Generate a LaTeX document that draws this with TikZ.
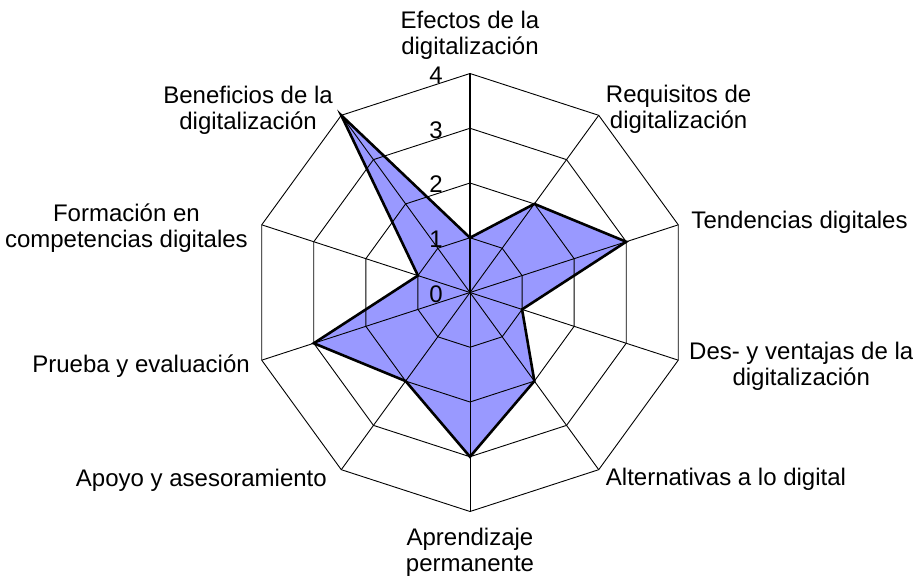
\documentclass[tikz,border=0pt]{standalone}
\usepackage{fontspec}
\setmainfont{Liberation Sans}
\usetikzlibrary{positioning}

\begin{document}
\begin{tikzpicture}[x=1pt,y=1pt]

	\tikzstyle{every node}=[font=\fontsize{24}{26}\selectfont, inner sep=0pt, align=center]
	\tikzstyle{ring} = [black, line width=0.9pt]
	\tikzstyle{valueaxis} = [black, line width=1.8pt]
	\tikzstyle{datafill} = [fill={rgb,255:red,153;green,153;blue,255}]
	\tikzstyle{dataline} = [black, line width=2.6pt, line join=miter]

	\useasboundingbox (-470,-283.5) rectangle (443,292.5);

	\def\ring{54.75}
	\coordinate (c) at (0,0);
	\foreach \i in {0,...,9}
		\coordinate (o\i) at ({90-36*\i}:4*\ring);
	\foreach \v [count=\i from 0] in {1,2,3,1,2,3,2,3,1,4}
		\coordinate (d\i) at ({90-36*\i}:\v*\ring);

	% Werte
	\fill[datafill] (d0) \foreach \i in {1,...,9}{ -- (d\i)} -- cycle;

	\foreach \r in {1,...,4}
		\draw[ring] (90:\r*\ring) \foreach \i in {1,...,9}{ -- ({90-36*\i}:\r*\ring)} -- cycle;
	\foreach \i in {1,...,9}
		\draw[ring] (c) -- (o\i);
	\draw[valueaxis] (c) -- (o0);

	\draw[dataline] (d0) \foreach \i in {1,...,9}{ -- (d\i)} -- cycle;

	\foreach \r in {0,...,4}
		\node[anchor=base east] (t\r) at (-27,{\r*\ring-10}) {\r};

	\node[above=13.4pt of o0]                           (efectos)     {Efectos de la\\digitalización};
	\node[right=7pt of o1, yshift=6pt]                  (requisitos)  {Requisitos de\\digitalización};
	\node[right=13pt of o2, yshift=2.5pt]               (tendencias)  {Tendencias digitales};
	\node[right=10.7pt of o3, yshift=-6pt]              (ventajas)    {Des- y ventajas de la\\digitalización};
	\node[below right=-1.5pt and 7pt of o4]             (alternativas){Alternativas a lo digital};
	\node[below=16.5pt of o5]                           (aprendizaje) {Aprendizaje\\permanente};
	\node[below left=-0.8pt and 14.3pt of o6]           (apoyo)       {Apoyo y asesoramiento};
	\node[left=11.7pt of o7, yshift=-5.5pt]             (prueba)      {Prueba y evaluación};
	\node[left=13.7pt of o8, yshift=-3.2pt]             (formacion)   {Formación en\\competencias digitales};
	\node[left=8.3pt of o9, yshift=5.4pt]               (beneficios)  {Beneficios de la\\digitalización};

\end{tikzpicture}
\end{document}
